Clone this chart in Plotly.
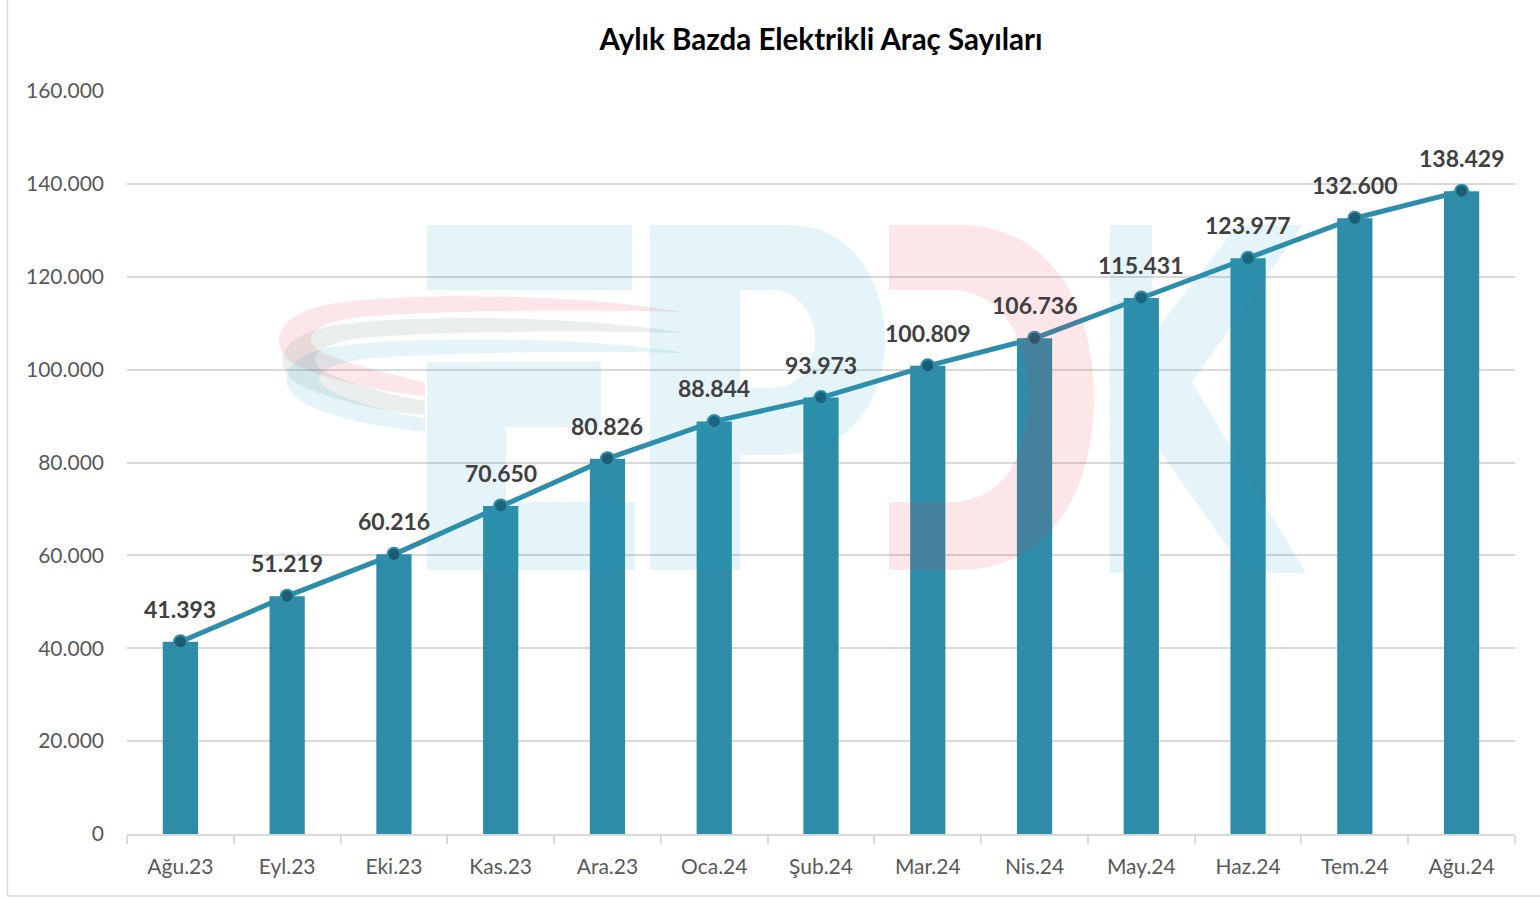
import plotly.graph_objects as go

categories = ["Ağu.23", "Eyl.23", "Eki.23", "Kas.23", "Ara.23", "Oca.24", "Şub.24",
              "Mar.24", "Nis.24", "May.24", "Haz.24", "Tem.24", "Ağu.24"]
values = [41393, 51219, 60216, 70650, 80826, 88844, 93973,
          100809, 106736, 115431, 123977, 132600, 138429]
y_ticks = [0, 20000, 40000, 60000, 80000, 100000, 120000, 140000, 160000]
title_text = "Aylık Bazda Elektrikli Araç Sayıları"

W, H = 1540, 899
ML, MR, MT, MB = 127, 25, 91, 65
PW, PH = W - ML - MR, H - MT - MB

BAR = "#2E8CA8"
LINE = "#2E8EAA"
FONT = "Lato"


def fmt(v):
    return f"{v:,}".replace(",", ".")


def px(x, y):
    return f"{(x - ML) / PW:.5f},{(H - MB - y) / PH:.5f}"


def path(cmds):
    out = []
    for c in cmds:
        if isinstance(c, str):
            out.append(c)
        else:
            out.append(px(*c))
    return " ".join(out)


fig = go.Figure()
fig.add_trace(go.Bar(x=categories, y=values, marker=dict(color=BAR, line=dict(width=0)),
                     width=0.33, hoverinfo="skip", showlegend=False))
fig.add_trace(go.Scatter(x=categories, y=values, mode="lines+markers",
                         line=dict(color=LINE, width=5),
                         marker=dict(size=13, color="#1C5C72", line=dict(color=LINE, width=2)),
                         showlegend=False))

annotations = []
for c, v in zip(categories, values):
    annotations.append(dict(x=c, y=v, text=fmt(v), showarrow=False, yshift=33,
                            font=dict(family=FONT, size=23, color="#404040", weight="bold")))

# watermark logo (decorative shapes above data, translucent)
CYAN, PINK, GRAY = "#1EA3C5", "#E8334A", "#2F6150"
op = 0.12
shapes = []


def add(cmds, color, opacity=op):
    shapes.append(dict(type="path", xref="paper", yref="paper", path=path(cmds),
                       fillcolor=color, opacity=opacity, line=dict(width=0),
                       layer="above", fillrule="evenodd"))


# E
add(["M", (427, 225), "L", (632, 225), "L", (632, 290), "L", (427, 290), "Z"], CYAN)
add(["M", (427, 362), "L", (601, 362), "L", (601, 427), "L", (506, 427), "L", (506, 502),
     "L", (635, 502), "L", (635, 570), "L", (427, 570), "Z"], CYAN)
# P
add(["M", (650, 225), "L", (790, 225), "C", (850, 225), (885, 280), (885, 340),
     "C", (885, 405), (845, 455), (780, 455), "L", (740, 455), "L", (740, 570), "L", (650, 570), "Z",
     "M", (740, 290), "L", (770, 290), "C", (800, 290), (815, 315), (815, 340),
     "C", (815, 365), (800, 388), (770, 388), "L", (740, 388), "Z"], CYAN)
# D
add(["M", (889, 225), "L", (960, 225), "C", (1050, 225), (1094, 305), (1094, 397),
     "C", (1094, 490), (1050, 570), (960, 570), "L", (889, 570), "L", (889, 502),
     "L", (950, 502), "C", (1000, 502), (1028, 460), (1028, 397),
     "C", (1028, 335), (1000, 290), (950, 290), "L", (889, 290), "Z"], PINK)
# K
add(["M", (1110, 225), "L", (1152, 225), "L", (1152, 335), "L", (1238, 225), "L", (1303, 225),
     "L", (1192, 382), "L", (1306, 573), "L", (1246, 573), "L", (1152, 440), "L", (1152, 573),
     "L", (1110, 573), "Z"], CYAN)
# swooshes
add(["M", (680, 312), "C", (600, 296), (420, 290), (330, 304), "C", (268, 316), (268, 352), (300, 367),
     "C", (335, 382), (385, 392), (425, 396), "L", (425, 382), "C", (385, 374), (335, 360), (318, 350),
     "C", (300, 336), (318, 322), (360, 317), "C", (450, 309), (600, 310), (680, 312), "Z"], PINK)
add(["M", (683, 333), "C", (600, 318), (420, 312), (330, 326), "C", (272, 338), (272, 372), (304, 387),
     "C", (338, 402), (385, 412), (425, 415), "L", (425, 401), "C", (385, 394), (338, 380), (322, 370),
     "C", (304, 357), (322, 343), (362, 338), "C", (450, 330), (600, 331), (683, 333), "Z"], GRAY, 0.1)
add(["M", (686, 353), "C", (600, 338), (420, 334), (332, 347), "C", (276, 358), (276, 390), (308, 405),
     "C", (340, 420), (385, 428), (425, 432), "L", (425, 418), "C", (385, 412), (342, 398), (326, 388),
     "C", (308, 376), (326, 364), (364, 359), "C", (450, 351), (600, 351), (686, 353), "Z"], CYAN)

# outer chart border (left and bottom visible)
shapes.append(dict(type="line", xref="paper", yref="paper", x0=(7.5 - ML) / PW, x1=(7.5 - ML) / PW,
                   y0=(H - MB - 896) / PH, y1=(H - MB + 5) / PH, line=dict(color="#D9D9D9", width=1.5),
                   layer="below"))
shapes.append(dict(type="line", xref="paper", yref="paper", x0=(7.5 - ML) / PW, x1=(W + 5 - ML) / PW,
                   y0=(H - MB - 896) / PH, y1=(H - MB - 896) / PH, line=dict(color="#D9D9D9", width=1.5),
                   layer="below"))

fig.update_layout(
    width=W, height=H, autosize=False,
    margin=dict(l=ML, r=MR, t=MT, b=MB, pad=0, autoexpand=False),
    paper_bgcolor="white", plot_bgcolor="white",
    separators=",.",
    font=dict(family=FONT, color="#595959"),
    title=dict(text=title_text, x=0.5, xref="paper", xanchor="center", y=1 - 40 / H, yanchor="middle",
               font=dict(family=FONT, size=29.5, color="#000000", weight="bold")),
    bargap=0.67,
    annotations=annotations,
    shapes=shapes,
    showlegend=False,
)
fig.update_xaxes(type="category", range=[-0.5, len(categories) - 0.5], autorange=False,
                 showgrid=False, showline=True, linecolor="#D9D9D9", linewidth=1.5,
                 ticks="outside", tickson="boundaries", ticklen=8, tickcolor="#D9D9D9", tickwidth=1.5,
                 tickfont=dict(family=FONT, size=21, color="#595959"), ticklabelstandoff=13,
                 automargin=False)
fig.update_yaxes(range=[0, 160000], tickvals=y_ticks, tickformat=",d", showgrid=True,
                 gridcolor="#D9D9D9", gridwidth=1.5, zeroline=False, showline=False,
                 tickfont=dict(family=FONT, size=21, color="#595959"), ticklabelstandoff=22,
                 automargin=False)

fig.write_html("out.html", config={"displayModeBar": False},
               post_script="document.body.style.margin='0';document.body.style.overflow='hidden';")
